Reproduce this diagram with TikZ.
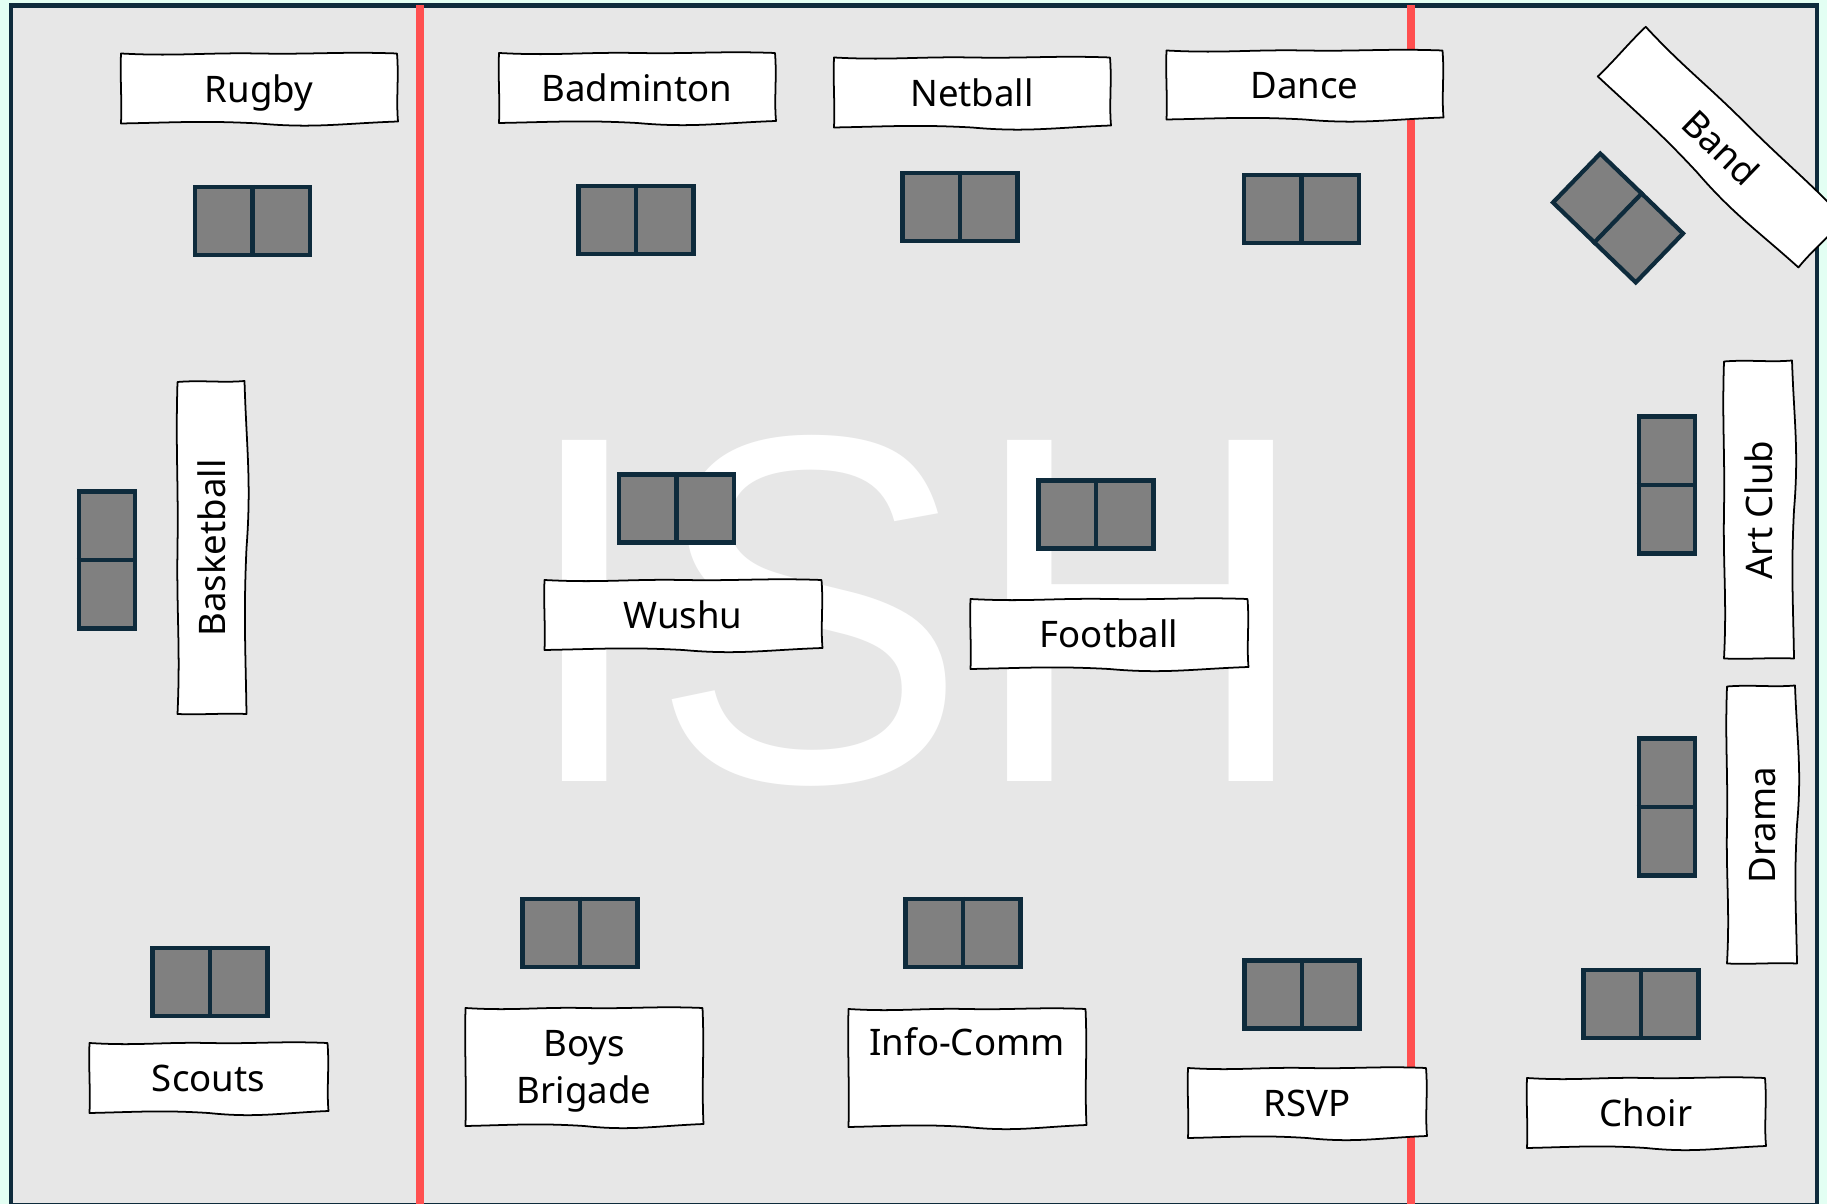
\documentclass[tikz,border=0pt]{standalone}
\usepackage{fontspec}
\usepackage{xcolor}
\usepackage{tikz}
\usetikzlibrary{calc, positioning}
\setmainfont{Noto Sans}
\newfontfamily\logofont{Liberation Sans}

\definecolor{hallmint}{HTML}{E3FFF3}
\definecolor{hallgrey}{HTML}{E7E7E7}
\definecolor{deskgrey}{HTML}{808080}
\definecolor{navyline}{HTML}{0E2B3C}
\definecolor{redline}{HTML}{FF5050}

\tikzset{
    desk/.style={draw=navyline, fill=deskgrey, line width=1.2pt, minimum width=1.15cm, minimum height=0.68cm, inner sep=0pt},
    tallhdesk/.style={desk, minimum width=0.565cm, minimum height=1.37cm},
    divider/.style={draw=navyline, line width=1.2pt},
    taglabel/.style={inner sep=0pt, align=center, text=black, text height=7.7pt, text depth=0pt, font=\fontsize{10.4}{13.4}\selectfont},
    twolines/.style={text height=, text depth=},
    tagline/.style={draw=black, fill=white, line width=0.5pt, line join=round}
}

% name, x, y, width, height, rotation, text
\newcommand{\tagbox}[8][]{
    \pgfmathsetmacro{\hw}{#5/2}
    \pgfmathsetmacro{\hh}{#6/2}
    \begin{scope}[shift={(#3,#4)}, rotate=#7]
        \draw[tagline] (-\hw,-\hh)
            .. controls (-\hw*0.6,-\hh+3) and (-\hw*0.4,-\hh-1) .. (0,-\hh)
            .. controls (\hw*0.4,-\hh+1) and (\hw*0.6,-\hh-2) .. (\hw,-\hh)
            .. controls (\hw+2,-\hh*0.3) and (\hw-1,\hh*0.3) .. (\hw+1,\hh-2)
            .. controls (\hw*0.6,\hh) and (\hw*0.4,\hh+5) .. (0,\hh)
            .. controls (-\hw*0.4,\hh-3) and (-\hw*0.6,\hh-1) .. (-\hw,\hh)
            .. controls (-\hw+1,\hh*0.3) and (-\hw-1,-\hh*0.3) .. cycle;
        \node[taglabel, rotate=#7, #1] (#2) at (0,0) {#8};
    \end{scope}
}

\begin{document}
\begin{tikzpicture}[x=0.01cm, y=-0.01cm]
    \useasboundingbox (0,0) rectangle (1827,1204);
    \fill[hallmint] (0,0) rectangle (1827,1204);

    % Floor of the hall
    \draw[navyline, fill=hallgrey, line width=1.2pt] (11,5.5) rectangle (1817,1205);
    \node[text=white, inner sep=0pt, font=\logofont\fontsize{141}{141}\selectfont] (logo) at (915,611) {\scalebox{0.96}[1]{ISH}};

    % Dividing lines
    \draw[redline, line width=2.2pt] (420,5) -- (420,1204);
    \draw[redline, line width=2.2pt] (1411,5) -- (1411,1204);

    % Desks side by side
    \foreach \name/\x/\y/\r in {rugby/252.5/221/0, badminton/636/220/0, netball/960/207/0,
        dance/1301.5/209/0, band/1618/218/-44, wushu/676.5/508.5/0,
        football/1096/514.5/0, choir/1641/1004/0,
        rsvp/1302/994.5/0, brigade/580/933/0, infocomm/963/933/0, scouts/210/982/0} {
        \node[desk, rotate=\r] (\name desk) at (\x,\y) {};
        \draw[divider] (\name desk.north) -- (\name desk.south);
    }
    % Desks one above the other
    \foreach \name/\x/\y in {basketball/107/560, artclub/1667/485, drama/1667/807} {
        \node[tallhdesk] (\name desk) at (\x,\y) {};
        \draw[divider] (\name desk.west) -- (\name desk.east);
    }

    % Name tags
    \tagbox{rugbytag}{259}{88.5}{276}{70}{0}{Rugby}
    \tagbox{badmintontag}{637}{88}{276}{70}{0}{Badminton}
    \tagbox{netballtag}{972}{92.5}{276}{70}{0}{Netball}
    \tagbox{dancetag}{1304.5}{85}{276}{69}{0}{Dance}
    \tagbox{bandtag}{1721}{147.5}{276}{69}{-44}{Band}
    \tagbox{basketballtag}{212}{548}{332}{69}{90}{Basketball}
    \tagbox{wushutag}{683}{615}{277}{70}{0}{Wushu}
    \tagbox{footballtag}{1109}{634}{277}{70}{0}{Football}
    \tagbox{arttag}{1759}{510}{297}{70}{90}{Art Club}
    \tagbox{dramatag}{1762}{825}{277}{70}{90}{Drama}
    \tagbox{scoutstag}{208.5}{1078}{238}{70}{0}{Scouts}
    \tagbox[twolines, yshift=-1.3pt]{brigadetag}{584}{1067}{237}{118}{0}{Boys\\Brigade}
    \tagbox[twolines, yshift=0.7pt]{infotag}{967}{1068}{237}{118}{0}{Info-Comm\\~}
    \tagbox{rsvptag}{1307}{1103}{238}{70}{0}{RSVP}
    \tagbox{choirtag}{1646}{1113}{238}{70}{0}{Choir}
\end{tikzpicture}
\end{document}
